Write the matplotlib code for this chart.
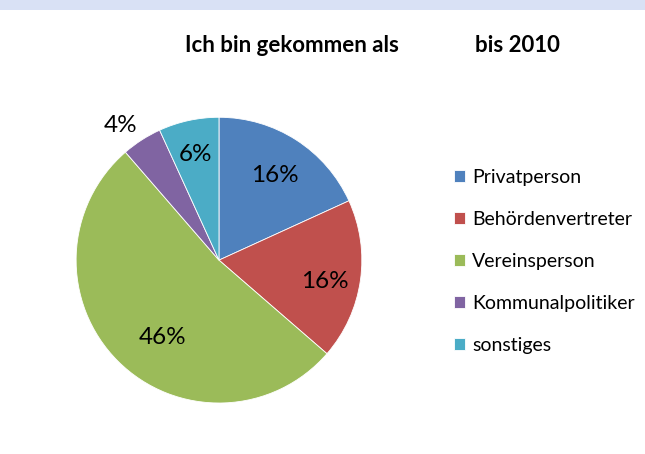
import numpy as np
import matplotlib.pyplot as plt
from matplotlib.patches import Rectangle

plt.rcParams['font.family'] = ['Lato', 'DejaVu Sans']

# Data
categories = ['Privatperson', 'Behördenvertreter', 'Vereinsperson',
              'Kommunalpolitiker', 'sonstiges']
values = [16, 16, 46, 4, 6]
colors = ['#4F81BD', '#C0504D', '#9BBB59', '#8064A2', '#4BACC6']
label_dist = [0.72, 0.75, 0.66, 1.18, 0.77]
label_turn = [0, -2, 8, 3, 0]  # small angle nudges (deg) for label placement

fig = plt.figure(figsize=(6.45, 4.54), dpi=100)
fig.patches.append(Rectangle((0, 1 - 10 / 454), 1, 10 / 454, transform=fig.transFigure,
                             facecolor='#D9E1F5', edgecolor='none'))

ax = fig.add_axes([0.118, 0.112, 0.443, 0.63])
wedges, _ = ax.pie(values, colors=colors, startangle=90, counterclock=False,
                   radius=1, wedgeprops=dict(edgecolor='white', linewidth=0.6))
ax.set_xlim(-1, 1)
ax.set_ylim(-1, 1)
ax.set_aspect('equal')
ax.axis('off')

for w, v, d, t in zip(wedges, values, label_dist, label_turn):
    mid = np.deg2rad((w.theta1 + w.theta2) / 2 + t)
    ax.text(d * np.cos(mid), d * np.sin(mid), f'{v}%', ha='center', va='center_baseline',
            fontsize=17.5, color='black', clip_on=False)

# Title
fig.text(399 / 645, 1 - 46 / 454, 'Ich bin gekommen als', ha='right', va='center',
         fontsize=16, fontweight='bold')
fig.text(475 / 645, 1 - 46 / 454, 'bis 2010', ha='left', va='center',
         fontsize=16, fontweight='bold')

# Legend
leg = fig.legend(wedges, categories, loc='upper left', bbox_to_anchor=(454 / 645, 1 - 169 / 454),
                 frameon=False, fontsize=14, handlelength=0.57, handleheight=0.57,
                 handletextpad=0.36, labelspacing=1.28, borderpad=0, borderaxespad=0)

plt.savefig('out.png', dpi=100)
